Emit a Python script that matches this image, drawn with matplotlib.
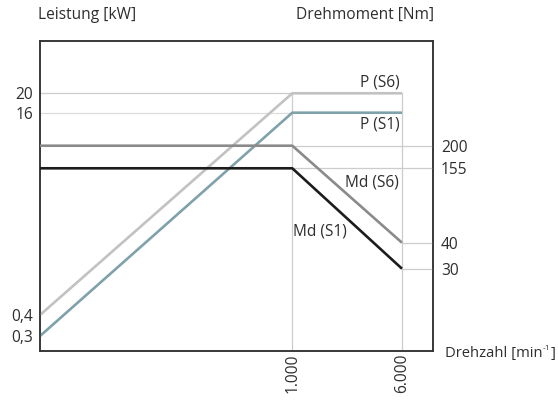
import numpy as np
import matplotlib
matplotlib.use("Agg")
import matplotlib.pyplot as plt
from matplotlib.ticker import FixedLocator, FixedFormatter

plt.rcParams['font.family'] = ['Open Sans', 'DejaVu Sans']

# ---- data ----
rpm = [0, 1000, 6000]
p_s6 = [0.4, 20, 20]          # kW
p_s1 = [0.3, 16, 16]          # kW
md_s6 = [200, 200, 40]        # Nm
md_s1 = [155, 155, 30]        # Nm

x_ticks = [1000, 6000]
x_ticklabels = ["1.000", "6.000"]
p_ticks = [0.3, 0.4, 16, 20]
p_ticklabels = ["0,3", "0,4", "16", "20"]
md_ticks = [30, 40, 155, 200]
md_ticklabels = ["30", "40", "155", "200"]

# ---- schematic (non-linear) scale anchors: value -> axes fraction ----
x_anchor_val = [0, 1000, 6000, 7400]
x_anchor_pos = [0, 0.6415, 0.9204, 1.0]
p_anchor_val = [0, 0.3, 0.4, 16, 20, 24]
p_anchor_pos = [0, 0.0483, 0.116, 0.768, 0.8305, 1.0]
md_anchor_val = [0, 30, 40, 155, 200, 300]
md_anchor_pos = [0, 0.2652, 0.349, 0.5888, 0.6616, 1.0]


def make_funcs(vals, pos):
    vals = np.asarray(vals, float)
    pos = np.asarray(pos, float)
    return (lambda v: np.interp(v, vals, pos),
            lambda t: np.interp(t, pos, vals))


TXT = '#2e2e2e'
GRID = '#cccccc'
FS = 11.2

fig = plt.figure(figsize=(5.58, 4.01), dpi=100)
ax = fig.add_axes([40 / 558, 50 / 401, 393.3 / 558, 310.3 / 401])
ax.set_xscale('function', functions=make_funcs(x_anchor_val, x_anchor_pos))
ax.set_yscale('function', functions=make_funcs(p_anchor_val, p_anchor_pos))
ax.set_xlim(x_anchor_val[0], x_anchor_val[-1])
ax.set_ylim(p_anchor_val[0], p_anchor_val[-1])

ax2 = ax.twinx()
ax2.set_yscale('function', functions=make_funcs(md_anchor_val, md_anchor_pos))
ax2.set_ylim(md_anchor_val[0], md_anchor_val[-1])
ax2.patch.set_visible(False)

# guide lines
for v in rpm[1:]:
    ax.plot([v, v], [0, p_s6[1]], color=GRID, lw=0.9, zorder=1)
ax.plot([rpm[0], rpm[1]], [p_s6[1], p_s6[1]], color=GRID, lw=0.9, zorder=1)
ax.plot([rpm[0], rpm[1]], [p_s1[1], p_s1[1]], color='#dddddd', lw=0.9, zorder=1)
for v in [md_s6[1], md_s1[1]]:
    ax2.plot([rpm[1], x_anchor_val[-1]], [v, v], color=GRID, lw=0.9, zorder=1)
for v in [md_s6[2], md_s1[2]]:
    ax2.plot([rpm[2], x_anchor_val[-1]], [v, v], color=GRID, lw=0.9, zorder=1)

# curves
ax.plot(rpm, p_s6, color='#c2c2c2', lw=1.9, zorder=3, solid_capstyle='butt')
ax.plot(rpm, p_s1, color='#7fa2aa', lw=1.9, zorder=3, solid_capstyle='butt')
ax2.plot(rpm, md_s6, color='#8a8a8a', lw=1.9, zorder=3, solid_capstyle='butt')
ax2.plot(rpm, md_s1, color='#1c1c1c', lw=1.9, zorder=3, solid_capstyle='butt')

# curve labels
ax.annotate("P (S6)", xy=(rpm[2], p_s6[2]), xytext=(-2, 11), textcoords='offset pixels',
            ha='right', va='center', fontsize=FS, color=TXT)
ax.annotate("P (S1)", xy=(rpm[2], p_s1[2]), xytext=(-2, -12), textcoords='offset pixels',
            ha='right', va='center', fontsize=FS, color=TXT)
ax2.annotate("Md (S6)", xy=(rpm[2], md_s6[2]), xytext=(-3, 60), textcoords='offset pixels',
             ha='right', va='center', fontsize=FS, color=TXT)
ax2.annotate("Md (S1)", xy=(rpm[1], md_s1[1]), xytext=(1, -63), textcoords='offset pixels',
             ha='left', va='center', fontsize=FS, color=TXT)

# ticks
ax.xaxis.set_major_locator(FixedLocator(x_ticks))
ax.xaxis.set_major_formatter(FixedFormatter(x_ticklabels))
ax.xaxis.set_minor_locator(FixedLocator([]))
ax.yaxis.set_major_locator(FixedLocator(p_ticks))
ax.yaxis.set_major_formatter(FixedFormatter(p_ticklabels))
ax.yaxis.set_minor_locator(FixedLocator([]))
ax2.yaxis.set_major_locator(FixedLocator(md_ticks))
ax2.yaxis.set_major_formatter(FixedFormatter(md_ticklabels))
ax2.yaxis.set_minor_locator(FixedLocator([]))

ax.tick_params(axis='y', length=0, pad=5, labelsize=FS, labelcolor=TXT)
ax.tick_params(axis='x', length=0, pad=2, labelsize=FS, labelcolor=TXT, labelrotation=90)
ax2.tick_params(axis='y', length=0, pad=5.5, labelsize=FS, labelcolor=TXT)

for a in (ax, ax2):
    for s in a.spines.values():
        s.set_color('#333333')
        s.set_linewidth(1.1)

# axis titles
fig.text(38 / 558, 1 - 15 / 401, "Leistung [kW]", ha='left', va='center', fontsize=FS, color=TXT)
fig.text(434 / 558, 1 - 15 / 401, "Drehmoment [Nm]", ha='right', va='center', fontsize=FS, color=TXT)

FS_X = 10.6
base_y = 1 - 357 / 401
sup_y = 1 - 350 / 401
t1 = fig.text(445 / 558, base_y, "Drehzahl [min", ha='left', va='baseline',
              fontsize=FS_X, color=TXT)
t2 = ax.annotate("-1", xy=(1, sup_y), xycoords=(t1, 'figure fraction'),
                 xytext=(0.3, 0), textcoords='offset pixels',
                 ha='left', va='baseline', fontsize=6, color=TXT, annotation_clip=False)
t3 = ax.annotate("]", xy=(1, base_y), xycoords=(t2, 'figure fraction'),
                 xytext=(0.2, 0), textcoords='offset pixels',
                 ha='left', va='baseline', fontsize=FS_X, color=TXT, annotation_clip=False)

fig.savefig("out.png", dpi=100)
